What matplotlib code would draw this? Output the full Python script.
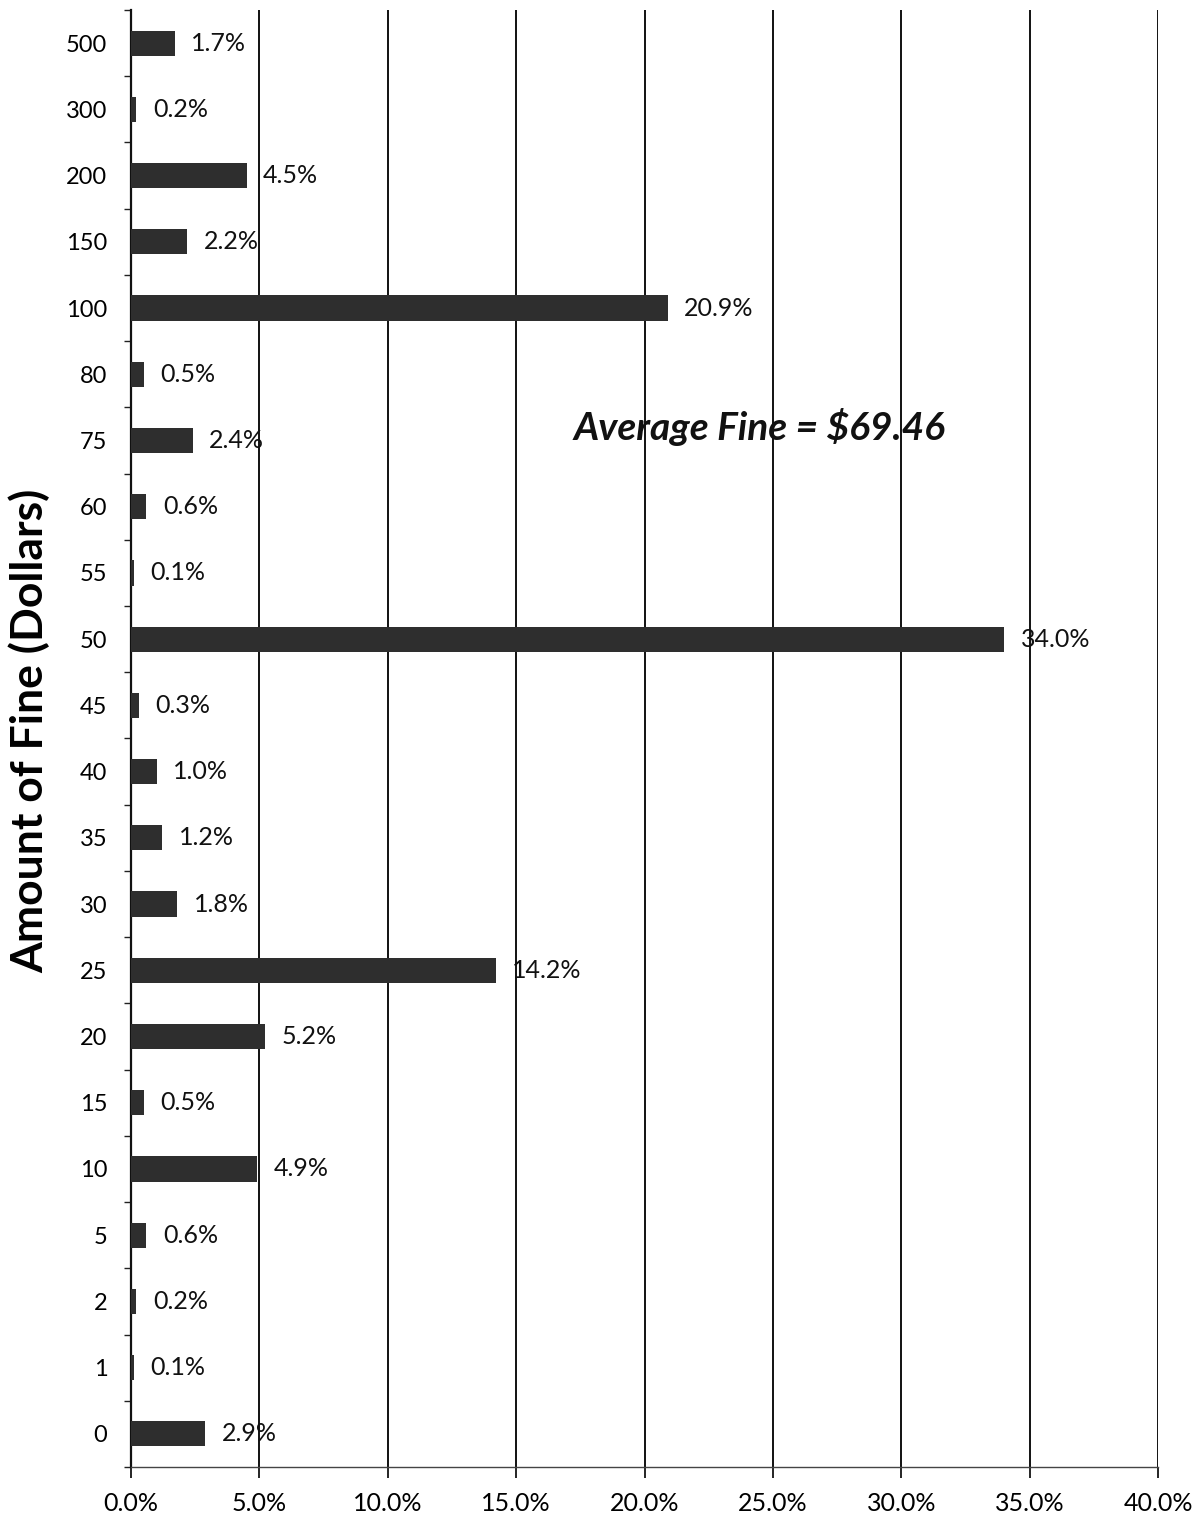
import matplotlib
matplotlib.use("Agg")
import matplotlib.pyplot as plt
import numpy as np
from matplotlib.ticker import FixedLocator

categories = ["0", "1", "2", "5", "10", "15", "20", "25", "30", "35", "40", "45",
              "50", "55", "60", "75", "80", "100", "150", "200", "300", "500"]
values = [2.9, 0.1, 0.2, 0.6, 4.9, 0.5, 5.2, 14.2, 1.8, 1.2, 1.0, 0.3,
          34.0, 0.1, 0.6, 2.4, 0.5, 20.9, 2.2, 4.5, 0.2, 1.7]
xticks = [0, 5, 10, 15, 20, 25, 30, 35, 40]
xtick_labels = ["0.0%", "5.0%", "10.0%", "15.0%", "20.0%", "25.0%", "30.0%", "35.0%", "40.0%"]

plt.rcParams['font.family'] = ['Lato', 'DejaVu Sans']

fig = plt.figure(figsize=(12.04, 15.21), dpi=100)
ax = fig.add_axes([131/1204, 54/1521, (1158-131)/1204, (1467-10)/1521])

y = np.arange(len(categories))
ax.barh(y, values, height=0.38, color="#2e2e2e", zorder=3)
for yi, v in zip(y, values):
    ax.text(v + 0.65, yi, f"{v:.1f}%", va="center", ha="left", fontsize=18, color="#111111", zorder=4)

ax.set_xlim(0, 40)
ax.set_ylim(-0.5, len(categories) - 0.5)
ax.set_xticks(xticks)
ax.set_xticklabels(xtick_labels, fontsize=18)
ax.set_yticks(y)
ax.set_yticklabels(categories, fontsize=17)
ax.yaxis.set_minor_locator(FixedLocator(np.arange(-0.5, len(categories), 1.0)))
ax.tick_params(axis="y", which="major", length=0, pad=17)
ax.tick_params(axis="y", which="minor", length=5, width=1, direction="out", color="#222222")
ax.tick_params(axis="x", which="major", length=8, width=1.2, direction="out", pad=10)

ax.xaxis.grid(True, color="#111111", linewidth=1.4, zorder=1)
for s in ["top", "right"]:
    ax.spines[s].set_visible(False)
ax.spines["left"].set_linewidth(1.6)
ax.spines["left"].set_color("#111111")
ax.spines["bottom"].set_linewidth(1.0)
ax.spines["bottom"].set_color("#444444")

ax.set_ylabel("Amount of Fine (Dollars)", fontsize=32, fontweight="bold")
ax.yaxis.set_label_coords(-0.079, 0.505)

ax.text(0.612, 0.714, "Average Fine = $69.46", transform=ax.transAxes,
        fontsize=28, fontweight="bold", fontstyle="italic", ha="center", va="center",
        color="#111111", zorder=5)

fig.savefig("out.png", dpi=100)
